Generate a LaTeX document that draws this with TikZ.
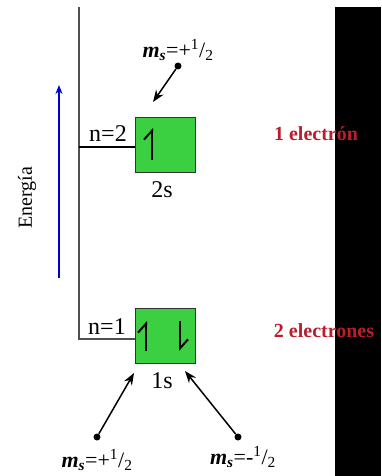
\documentclass[tikz,border=0pt]{standalone}
\usepackage{fontspec}
\setmainfont{Liberation Serif}
\usetikzlibrary{arrows.meta}
\definecolor{boxgreen}{RGB}{58,208,66}
\definecolor{labelred}{RGB}{185,30,45}
\definecolor{linegray}{RGB}{80,80,80}
\tikzset{
  orbital/.style={draw=black!80,fill=boxgreen,minimum width=60pt,minimum height=55pt,inner sep=0pt},
  level/.style={font=\fontsize{24}{24}\selectfont,inner sep=0pt},
  spin/.style={font=\fontsize{22}{22}\selectfont,inner sep=0pt},
  count/.style={font=\fontsize{20}{20}\selectfont\bfseries,text=labelred,inner sep=0pt},
  dot/.style={circle,fill=black,inner sep=0pt,minimum size=7pt},
  harp/.style={line width=2.4pt,-{Straight Barb[left,length=9pt,width=16pt,line width=2pt]}},
  pointer/.style={line width=1.5pt,-{Stealth[length=12pt,width=9pt]}}
}
\newcommand{\msval}[1]{\textbf{\textit{m}}\textsubscript{\textbf{\textit{s}}}=#1\textsuperscript{1}/\textsubscript{2}}
\begin{document}
\begin{tikzpicture}[x=1pt,y=-1pt]
  \useasboundingbox (0,0) rectangle (381,476);
  \fill[black] (335,7) rectangle (381,476);
  % axis and levels
  \coordinate (top) at (79,7);
  \coordinate (lvltwo) at (79,147);
  \coordinate (lvlone) at (79,339);
  \node[orbital] (two) at (165,144.5) {};
  \node[orbital] (one) at (165,336) {};
  \draw[linegray,line width=2pt] (top) -- (lvlone) -- (one.west |- lvlone);
  \draw[black,line width=1.5pt] (lvltwo) -- (two.west |- lvltwo);
  \node[level] (ntwo) at (108,134) {n=2};
  \node[level] (none) at (107,327) {n=1};
  \node[level] (stwo) at (162,190) {2s};
  \node[level] (sone) at (162,381) {1s};
  % energy arrow
  \coordinate (ebot) at (59,278);
  \coordinate (etop) at (59,85);
  \draw[blue!80!black,line width=2pt,-{Stealth[length=9pt,width=7pt]}] (ebot) -- (etop);
  \node[level,rotate=90,font=\fontsize{20}{20}\selectfont] (energia) at (27,198) {Energía};
  % electrons
  \draw[harp] (152,160) -- (152,128);
  \draw[harp] (146,351) -- (146,321);
  \draw[harp] (180,321) -- (180,351);
  % spin labels
  \node[dot] (dtop) at (178,66) {};
  \node[dot] (dleft) at (97,437) {};
  \node[dot] (dright) at (238,437) {};
  \coordinate (atop) at (153,102);
  \coordinate (aleft) at (134,373);
  \coordinate (aright) at (185,371);
  \draw[pointer] (dtop) -- (atop);
  \draw[pointer] (dleft) -- (aleft);
  \draw[pointer] (dright) -- (aright);
  \node[spin] (mtop) at (178,50) {\msval{+}};
  \node[spin] (mleft) at (97,460) {\msval{+}};
  \node[spin] (mright) at (243,457) {\msval{-}};
  % counts
  \node[count] (cone) at (316,134) {1 electrón};
  \node[count] (ctwo) at (324,331) {2 electrones};
\end{tikzpicture}
\end{document}
